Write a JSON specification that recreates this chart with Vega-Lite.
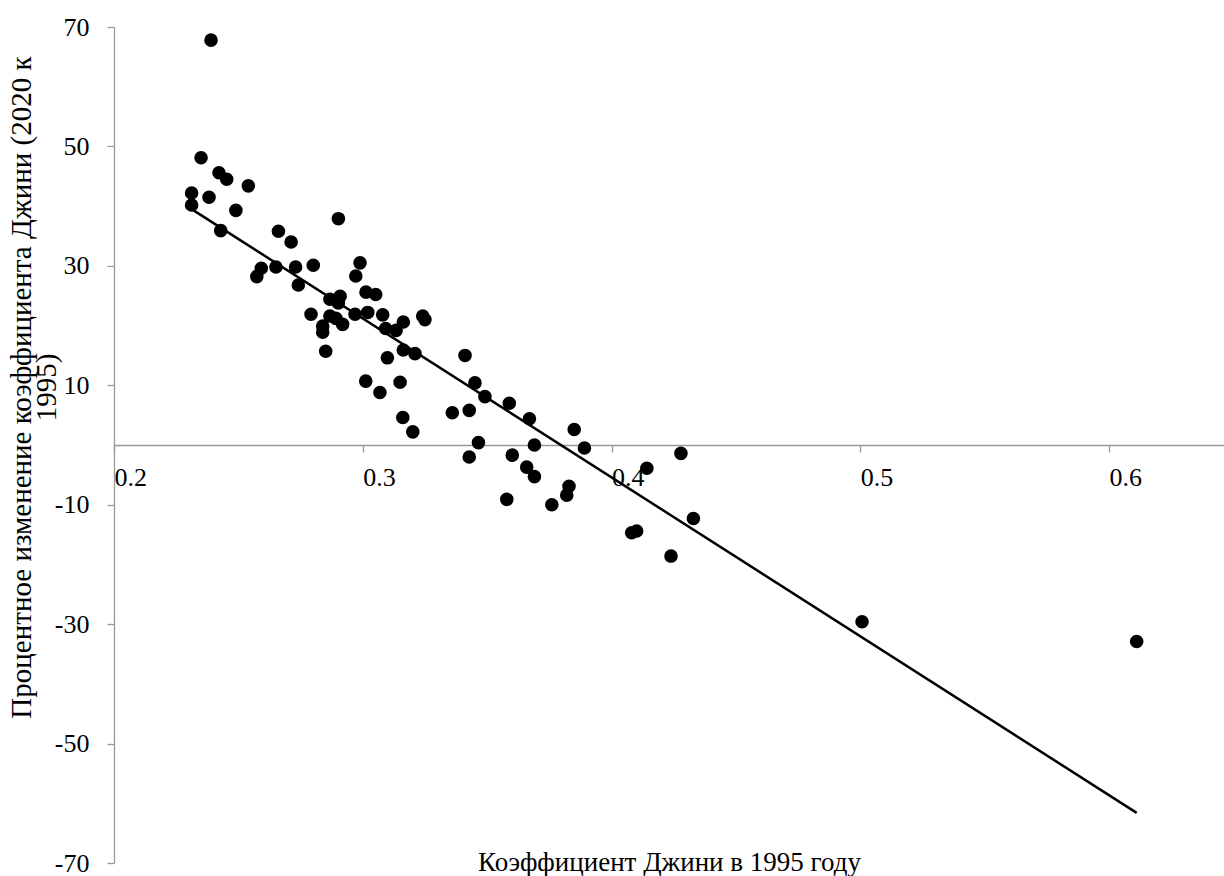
{
  "$schema": "https://vega.github.io/schema/vega-lite/v6.json",
  "width": 1110,
  "height": 836,
  "autosize": {"type": "none"},
  "padding": {"left": 114, "top": 27, "right": 0, "bottom": 13},
  "background": "white",
  "config": {
    "view": {"stroke": null},
    "font": "Liberation Serif",
    "axis": {"labelColor": "black", "titleColor": "black", "labelFont": "Liberation Serif", "titleFont": "Liberation Serif"}
  },
  "layer": [
    {
      "data": {
        "values": [
          {"gini1995": 0.2390, "change": 67.8},
          {"gini1995": 0.2350, "change": 48.1},
          {"gini1995": 0.2422, "change": 45.6},
          {"gini1995": 0.2453, "change": 44.5},
          {"gini1995": 0.2540, "change": 43.4},
          {"gini1995": 0.2312, "change": 42.2},
          {"gini1995": 0.2382, "change": 41.5},
          {"gini1995": 0.2312, "change": 40.2},
          {"gini1995": 0.2490, "change": 39.3},
          {"gini1995": 0.2429, "change": 35.9},
          {"gini1995": 0.2661, "change": 35.8},
          {"gini1995": 0.2712, "change": 34.0},
          {"gini1995": 0.2592, "change": 29.6},
          {"gini1995": 0.2574, "change": 28.2},
          {"gini1995": 0.2651, "change": 29.8},
          {"gini1995": 0.2730, "change": 29.8},
          {"gini1995": 0.2801, "change": 30.1},
          {"gini1995": 0.2741, "change": 26.8},
          {"gini1995": 0.2902, "change": 37.9},
          {"gini1995": 0.2989, "change": 30.5},
          {"gini1995": 0.2972, "change": 28.3},
          {"gini1995": 0.3013, "change": 25.6},
          {"gini1995": 0.3052, "change": 25.2},
          {"gini1995": 0.2868, "change": 24.4},
          {"gini1995": 0.2909, "change": 24.9},
          {"gini1995": 0.2902, "change": 23.8},
          {"gini1995": 0.2792, "change": 21.9},
          {"gini1995": 0.2969, "change": 21.9},
          {"gini1995": 0.3020, "change": 22.2},
          {"gini1995": 0.3080, "change": 21.8},
          {"gini1995": 0.2868, "change": 21.6},
          {"gini1995": 0.2892, "change": 21.2},
          {"gini1995": 0.2919, "change": 20.2},
          {"gini1995": 0.2839, "change": 19.9},
          {"gini1995": 0.2839, "change": 18.9},
          {"gini1995": 0.2851, "change": 15.7},
          {"gini1995": 0.3092, "change": 19.5},
          {"gini1995": 0.3134, "change": 19.2},
          {"gini1995": 0.3163, "change": 20.6},
          {"gini1995": 0.3241, "change": 21.6},
          {"gini1995": 0.3250, "change": 21.0},
          {"gini1995": 0.3099, "change": 14.6},
          {"gini1995": 0.3163, "change": 15.9},
          {"gini1995": 0.3210, "change": 15.3},
          {"gini1995": 0.3411, "change": 15.0},
          {"gini1995": 0.3012, "change": 10.7},
          {"gini1995": 0.3150, "change": 10.5},
          {"gini1995": 0.3069, "change": 8.8},
          {"gini1995": 0.3451, "change": 10.4},
          {"gini1995": 0.3161, "change": 4.6},
          {"gini1995": 0.3201, "change": 2.2},
          {"gini1995": 0.3360, "change": 5.4},
          {"gini1995": 0.3428, "change": 5.8},
          {"gini1995": 0.3465, "change": 0.4},
          {"gini1995": 0.3491, "change": 8.1},
          {"gini1995": 0.3589, "change": 7.0},
          {"gini1995": 0.3670, "change": 4.4},
          {"gini1995": 0.3850, "change": 2.6},
          {"gini1995": 0.3891, "change": -0.5},
          {"gini1995": 0.3690, "change": 0.0},
          {"gini1995": 0.3428, "change": -2.0},
          {"gini1995": 0.3601, "change": -1.7},
          {"gini1995": 0.3659, "change": -3.7},
          {"gini1995": 0.3690, "change": -5.3},
          {"gini1995": 0.3579, "change": -9.1},
          {"gini1995": 0.3760, "change": -10.0},
          {"gini1995": 0.3829, "change": -6.9},
          {"gini1995": 0.3820, "change": -8.4},
          {"gini1995": 0.4279, "change": -1.4},
          {"gini1995": 0.4142, "change": -3.9},
          {"gini1995": 0.4329, "change": -12.3},
          {"gini1995": 0.4081, "change": -14.7},
          {"gini1995": 0.4101, "change": -14.4},
          {"gini1995": 0.4239, "change": -18.6},
          {"gini1995": 0.5007, "change": -29.6},
          {"gini1995": 0.6111, "change": -32.9}
        ]
      },
      "mark": {"type": "point", "filled": true, "shape": "circle", "size": 185, "color": "black", "opacity": 1},
      "encoding": {
        "x": {
          "field": "gini1995",
          "type": "quantitative",
          "scale": {"domain": [0.2, 0.6462], "nice": false, "zero": false},
          "axis": {
            "title": "Коэффициент Джини в 1995 году",
            "values": [0.2, 0.3, 0.4, 0.5, 0.6],
            "labelExpr": "'' + datum.value",
            "offset": -418,
            "labelAlign": "left",
            "labelBaseline": "top",
            "labelPadding": 12,
            "labelFontSize": 26,
            "labelFlush": false,
            "labelOverlap": false,
            "tickSize": 7,
            "tickColor": "#999999",
            "domainColor": "#999999",
            "domainWidth": 1.3,
            "tickWidth": 1.3,
            "grid": false,
            "titleFontSize": 27,
            "titleFontWeight": "normal",
            "titleBaseline": "alphabetic",
            "titleY": 425
          }
        },
        "y": {
          "field": "change",
          "type": "quantitative",
          "scale": {"domain": [-70, 70], "nice": false},
          "axis": {
            "title": ["Процентное изменение коэффициента Джини (2020 к", "1995)"],
            "values": [-70, -50, -30, -10, 10, 30, 50, 70],
            "labelExpr": "'' + datum.value",
            "labelFontSize": 26,
            "labelPadding": 18,
            "tickSize": 7,
            "tickColor": "#999999",
            "domainColor": "#999999",
            "domainWidth": 1.3,
            "tickWidth": 1.3,
            "grid": false,
            "titleFontSize": 29,
            "titleFontWeight": "normal",
            "titleBaseline": "middle",
            "titleX": -93,
            "titleY": 360,
            "titleLineHeight": 25
          }
        }
      }
    },
    {
      "data": {"values": [{"gini1995": 0.2312, "change": 39.5}, {"gini1995": 0.6111, "change": -61.6}]},
      "mark": {"type": "line", "color": "black", "strokeWidth": 2.5},
      "encoding": {
        "x": {"field": "gini1995", "type": "quantitative"},
        "y": {"field": "change", "type": "quantitative"}
      }
    }
  ]
}
